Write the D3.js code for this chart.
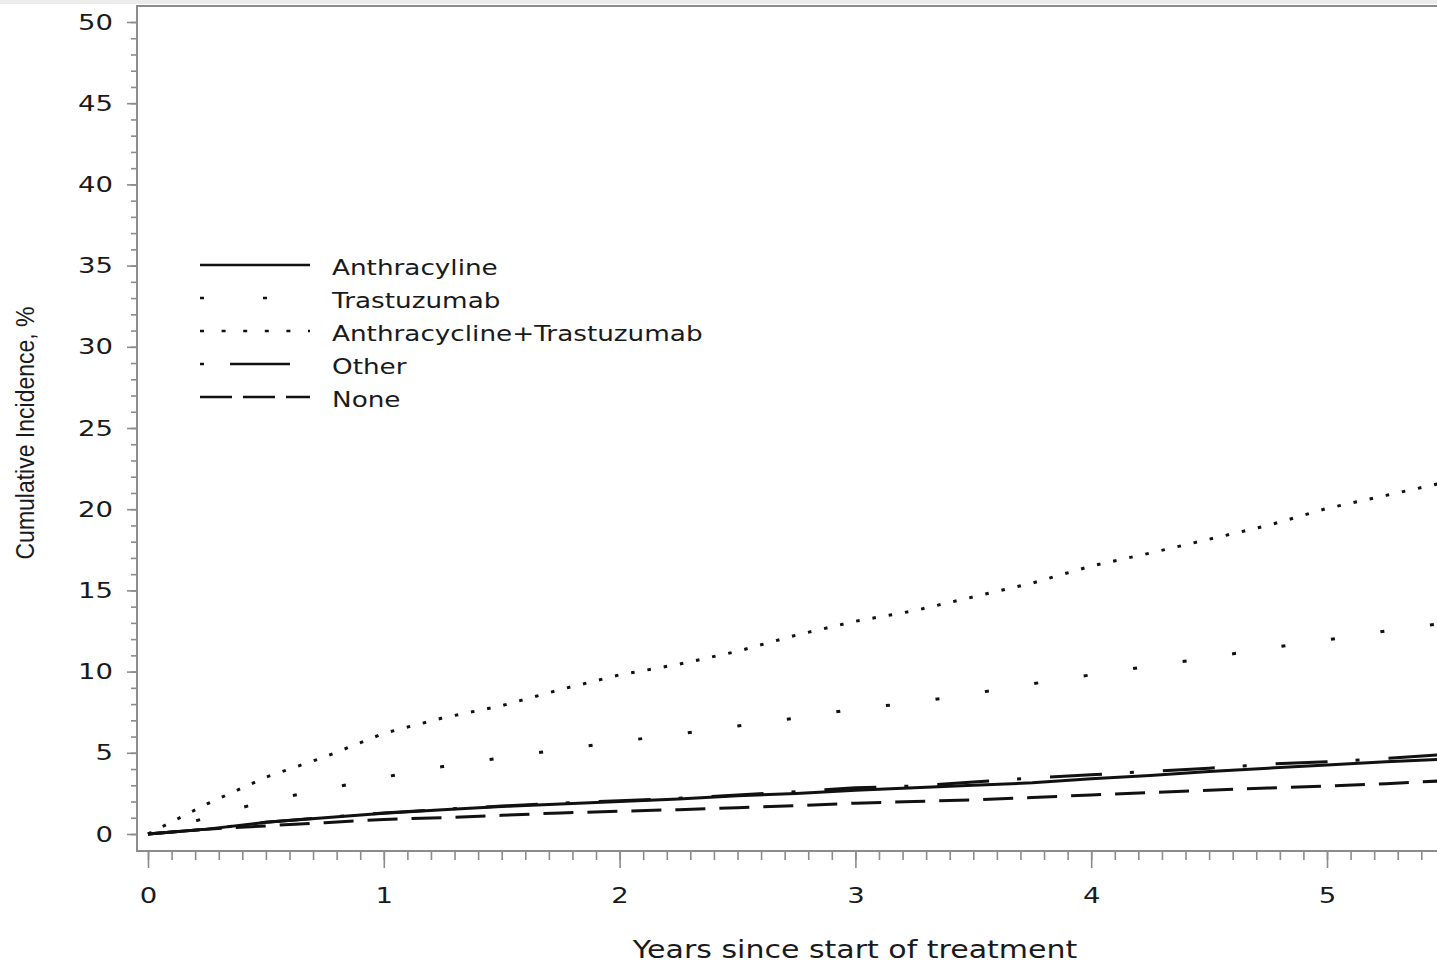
<!DOCTYPE html>
<html>
<head>
<meta charset="utf-8">
<script src="https://cdn.jsdelivr.net/npm/d3@7"></script>
<style>
    body { margin: 0; background: #ffffff; }
    svg { display: block; }
    text { fill: #1a1a1a; }
</style>
</head>
<body>
<div id="chart"></div>
<script>
// years since start of treatment (shared grid for every curve)
var years = [0, 0.25, 0.5, 0.75, 1, 1.25, 1.5, 1.75, 2, 2.25, 2.5, 2.75, 3,
    3.25, 3.5, 3.75, 4, 4.25, 4.5, 4.75, 5, 5.25, 5.5];

// cumulative incidence, %
var anthracyline = [0, 0.3, 0.72, 1.0, 1.28, 1.5, 1.7, 1.85, 2.0, 2.15, 2.35, 2.5, 2.7,
    2.85, 3.0, 3.15, 3.4, 3.6, 3.85, 4.05, 4.25, 4.45, 4.6];
var trastuzumab = [0, 1.0, 2.05, 2.75, 3.5, 4.15, 4.7, 5.2, 5.7, 6.15, 6.65, 7.15, 7.7,
    8.1, 8.65, 9.25, 9.8, 10.35, 10.85, 11.45, 11.95, 12.5, 13.0];
var anthraTrastuzumab = [0, 1.85, 3.5, 4.75, 6.2, 7.15, 7.9, 8.9, 9.8, 10.45, 11.25, 12.25, 13.1,
    13.75, 14.6, 15.45, 16.5, 17.3, 18.15, 19.0, 20.05, 20.85, 21.65];
var other = [0, 0.3, 0.72, 1.02, 1.3, 1.52, 1.72, 1.9, 2.05, 2.2, 2.4, 2.6, 2.85,
    2.95, 3.2, 3.45, 3.65, 3.85, 4.05, 4.3, 4.45, 4.65, 4.9];
var none = [0, 0.3, 0.5, 0.7, 0.9, 1.0, 1.15, 1.3, 1.4, 1.5, 1.62, 1.75, 1.9,
    2.0, 2.1, 2.25, 2.4, 2.55, 2.7, 2.83, 2.95, 3.1, 3.28];

var seriesNames = ["Anthracyline", "Trastuzumab", "Anthracycline+Trastuzumab", "Other", "None"];
var seriesValues = [anthracyline, trastuzumab, anthraTrastuzumab, other, none];

var yTicks = [0, 5, 10, 15, 20, 25, 30, 35, 40, 45, 50];
var xTicks = [0, 1, 2, 3, 4, 5];

// line styles: plot dash pattern / legend dash pattern
var plotDash = [null, "4 46", "3.5 13", "52 28 4 29", "30 14"];
var legendDash = [null, "4 59", "4 17.6", "4 26 60 40", "32 11"];

var W = 1437, H = 967;
var frame = {left: 137, top: 6, bottom: 851};
var wide = 1.25;   // the source font is wider than DejaVu

var svg = d3.select("#chart")
    .append("svg")
    .attr("width", W)
    .attr("height", H)
    .style("font-family", "'DejaVu Sans', sans-serif");

// grey band at the very top (cut off page above the plot)
svg.append("rect")
    .attr("x", 0).attr("y", 0)
    .attr("width", W).attr("height", 4)
    .attr("fill", "#ececec");

var xScale = d3.scaleLinear()
    .domain([0, 5])
    .range([148, 1327]);

var yScale = d3.scaleLinear()
    .domain([0, 50])
    .range([834, 22]);

svg.append("clipPath")
    .attr("id", "plotclip")
    .append("rect")
    .attr("x", frame.left).attr("y", frame.top)
    .attr("width", W - frame.left).attr("height", frame.bottom - frame.top);

// frame
svg.append("path")
    .attr("d", "M" + W + "," + frame.top + "H" + frame.left + "V" + frame.bottom + "H" + W)
    .attr("fill", "none")
    .attr("stroke", "#8c8c8c")
    .attr("stroke-width", 2);

// y axis, minor + major
var yMinor = svg.append("g")
    .attr("transform", "translate(" + frame.left + ",0)")
    .call(d3.axisLeft(yScale).tickValues(d3.range(0, 51, 1)).tickSize(6).tickFormat(""));
var yMajor = svg.append("g")
    .attr("transform", "translate(" + frame.left + ",0)")
    .call(d3.axisLeft(yScale).tickValues(yTicks).tickSize(10).tickPadding(14).tickFormat(d3.format("d")));

// x axis, minor + major
var xMinor = svg.append("g")
    .attr("transform", "translate(0," + frame.bottom + ")")
    .call(d3.axisBottom(xScale).tickValues(d3.range(0, 55, 1).map(function (d) { return d / 10; }))
        .tickSize(9).tickFormat(""));
var xMajor = svg.append("g")
    .attr("transform", "translate(0," + frame.bottom + ")")
    .call(d3.axisBottom(xScale).tickValues(xTicks).tickSize(17).tickPadding(22).tickFormat(d3.format("d")));

[yMinor, yMajor, xMinor, xMajor].forEach(function (g) {
    g.select(".domain").remove();
    g.selectAll(".tick line").attr("stroke", "#8c8c8c").attr("stroke-width", 1.6);
    g.selectAll(".tick text")
        .attr("fill", "#111")
        .style("font-family", "'DejaVu Sans', sans-serif")
        .style("font-size", "22px");
});
xMajor.selectAll(".tick text").attr("dy", "0.6em");

// curves
var line = d3.line()
    .x(function (d) { return xScale(d[0]); })
    .y(function (d) { return yScale(d[1]); });

var curves = svg.append("g").attr("clip-path", "url(#plotclip)");

for (var s = 0; s < seriesValues.length; s++) {
    var pts = years.map(function (t, i) { return [t, seriesValues[s][i]]; });
    curves.append("path")
        .datum(pts)
        .attr("d", line)
        .attr("fill", "none")
        .attr("stroke", "#111")
        .attr("stroke-width", 3)
        .attr("stroke-dasharray", plotDash[s]);
}

// legend
for (var index = 0; index < seriesNames.length; index++) {
    var ly = 265 + 33 * index;

    svg.append("line")
        .attr("x1", 200).attr("x2", 310)
        .attr("y1", ly).attr("y2", ly)
        .attr("stroke", "#111")
        .attr("stroke-width", 2.6)
        .attr("stroke-dasharray", legendDash[index]);

    svg.append("text")
        .attr("class", "wide")
        .attr("x", 332)
        .attr("y", ly + 10)
        .attr("fill", "#111")
        .style("font-size", "21px")
        .text(seriesNames[index]);
}

// axis titles
svg.append("text")
    .attr("class", "wide")
    .attr("x", 855)
    .attr("y", 958)
    .attr("text-anchor", "middle")
    .attr("fill", "#111")
    .style("font-size", "24px")
    .text("Years since start of treatment");

svg.append("text")
    .attr("id", "ytitle")
    .attr("transform", "translate(34,433) rotate(-90)")
    .attr("text-anchor", "middle")
    .attr("fill", "#111")
    .style("font-family", "'Liberation Sans Narrow', 'Liberation Sans', sans-serif")
    .style("font-size", "25px")
    .text("Cumulative Incidence, %");

// stretch DejaVu text to the wider face of the source
svg.selectAll(".tick text, text.wide").each(function () {
    var len = this.getComputedTextLength();
    if (len > 0) {
        this.setAttribute("textLength", len * wide);
        this.setAttribute("lengthAdjust", "spacingAndGlyphs");
    }
});
svg.select("#ytitle")
    .attr("textLength", 253)
    .attr("lengthAdjust", "spacingAndGlyphs");
</script>
</body>
</html>
